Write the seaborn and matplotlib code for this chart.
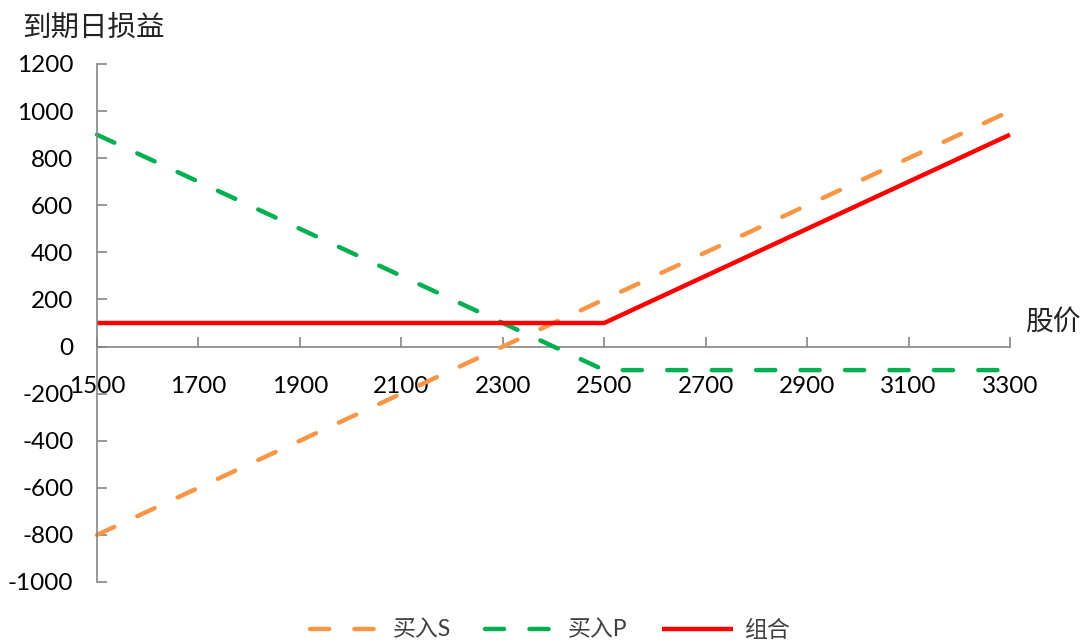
import matplotlib
matplotlib.use("Agg")
import matplotlib.pyplot as plt
import seaborn as sns
import pandas as pd

# Data
prices = [1500, 1600, 1700, 1800, 1900, 2000, 2100, 2200, 2300, 2400,
          2500, 2600, 2700, 2800, 2900, 3000, 3100, 3200, 3300]
buy_s = [-800, -700, -600, -500, -400, -300, -200, -100, 0, 100,
         200, 300, 400, 500, 600, 700, 800, 900, 1000]
buy_p = [900, 800, 700, 600, 500, 400, 300, 200, 100, 0,
         -100, -100, -100, -100, -100, -100, -100, -100, -100]
combo = [100, 100, 100, 100, 100, 100, 100, 100, 100, 100,
         100, 200, 300, 400, 500, 600, 700, 800, 900]
series_names = ["买入S", "买入P", "组合"]
x_ticks = [1500, 1700, 1900, 2100, 2300, 2500, 2700, 2900, 3100, 3300]
y_ticks = [-1000, -800, -600, -400, -200, 0, 200, 400, 600, 800, 1000, 1200]

sns.set_theme(style="white")
plt.rcParams['font.family'] = ['Lato', 'Noto Sans CJK SC', 'DejaVu Sans']
plt.rcParams['axes.unicode_minus'] = False

fig = plt.figure(figsize=(10.85, 6.43), dpi=100)
ax = fig.add_axes([97/1085, 61/643, (1010-97)/1085, (582-64)/643])

df = pd.DataFrame({"price": prices, "S": buy_s, "P": buy_p, "C": combo})
colors = ["#F79646", "#00B050", "#FF0000"]
lw = 3.2
sns.lineplot(data=df, x="price", y="S", ax=ax, color=colors[0], lw=lw,
             label=series_names[0], dashes=False)
sns.lineplot(data=df, x="price", y="P", ax=ax, color=colors[1], lw=lw,
             label=series_names[1], dashes=False)
sns.lineplot(data=df, x="price", y="C", ax=ax, color=colors[2], lw=lw,
             label=series_names[2], dashes=False)
for i, line in enumerate(ax.get_lines()[:2]):
    line.set_dashes((4.3, 5.7))
    line.set_dash_capstyle('round')
for line in ax.get_lines():
    line.set_clip_on(False)
    line.set_solid_capstyle('butt')

ax.set_xlim(1500, 3300)
ax.set_ylim(-1000, 1200)
ax.set_xticks(x_ticks)
ax.set_yticks(y_ticks)
ax.set_xlabel("")
ax.set_ylabel("")

gray = "#868686"
for s in ["top", "right"]:
    ax.spines[s].set_visible(False)
ax.spines["bottom"].set_position(("data", 0))
ax.spines["bottom"].set_color(gray)
ax.spines["left"].set_color(gray)
ax.spines["bottom"].set_linewidth(1.2)
ax.spines["left"].set_linewidth(1.2)
ax.spines["bottom"].set_zorder(0)
ax.tick_params(axis="x", direction="in", length=7, width=1.2, color=gray,
               labelsize=17.5, pad=21, bottom=True)
ax.tick_params(axis="y", direction="in", length=7, width=1.2, color=gray,
               labelsize=17.5, pad=17, left=True)
for t in ax.get_xticklabels() + ax.get_yticklabels():
    t.set_color("black")

cjk = ['Noto Sans CJK SC', 'DejaVu Sans']
fig.text(22/1085, 1 - 28/643, "到期日损益", fontsize=20.5, va="center", ha="left",
         family=cjk, color="#222222")
fig.text(1025/1085, 1 - 322/643, "股价", fontsize=20, va="center", ha="left",
         family=cjk, color="#222222")

ax.get_legend().remove()
handles, labels = ax.get_legend_handles_labels()
leg = fig.legend(handles, labels, loc="center", bbox_to_anchor=(550/1085, 1 - 630/643),
                 ncol=3, frameon=False, fontsize=16.5, handlelength=3.1,
                 columnspacing=1.5, handletextpad=0.5)
for t in leg.get_texts():
    t.set_color("#404040")

fig.savefig("out.png", dpi=100)
